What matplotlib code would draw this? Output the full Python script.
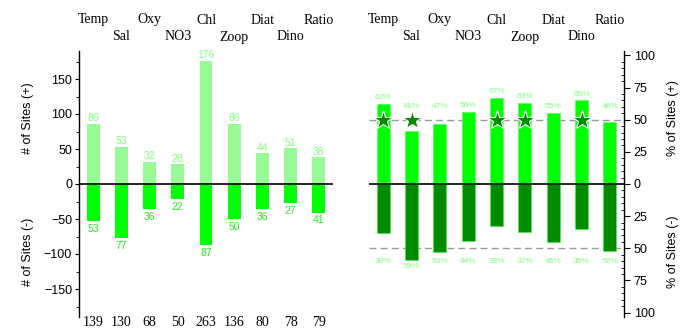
import matplotlib
matplotlib.use('Agg')
import matplotlib.pyplot as plt
from matplotlib.ticker import MultipleLocator, FuncFormatter
from matplotlib.transforms import blended_transform_factory

variables = ['Temp', 'Sal', 'Oxy', 'NO3', 'Chl', 'Zoop', 'Diat', 'Dino', 'Ratio']
n_pos = [86, 53, 32, 28, 176, 86, 44, 51, 38]
n_neg = [53, 77, 36, 22, 87, 50, 36, 27, 41]
n_total = [139, 130, 68, 50, 263, 136, 80, 78, 79]
pct_pos = [62, 41, 47, 56, 67, 63, 55, 65, 48]
pct_neg = [38, 59, 53, 44, 33, 37, 45, 35, 52]
starred = ['Temp', 'Sal', 'Chl', 'Zoop', 'Dino']

plt.rcParams['font.family'] = ['Liberation Sans', 'DejaVu Sans']
serif = 'Liberation Serif'

fig = plt.figure(figsize=(6.92, 3.29), dpi=100)
W, H = 692.0, 329.0
ax1 = fig.add_axes([79/W, 12/H, 254/W, 266/H])
ax2 = fig.add_axes([369/W, 12/H, 255/W, 266/H])

x = list(range(len(variables)))
bw = 0.46

# ---- left panel: counts
ax1.bar(x, n_pos, width=bw, color='#98fb98', edgecolor='none')
ax1.bar(x, [-v for v in n_neg], width=bw, color='#00ff00', edgecolor='none')
ax1.axhline(0, color='black', lw=1.2)
for i in x:
    ax1.annotate(str(n_pos[i]), (i, n_pos[i]), xytext=(0, 0.5), textcoords='offset points',
                 ha='center', va='bottom', fontsize=7.5, color='#80ff80')
    ax1.annotate(str(n_neg[i]), (i, -n_neg[i]), xytext=(0, -2), textcoords='offset points',
                 ha='center', va='top', fontsize=7.5, color='#22ee22')
ax1.set_xlim(-0.5, 8.5)
ax1.set_ylim(-190, 190)
ax1.set_yticks([-150, -100, -50, 0, 50, 100, 150])
ax1.yaxis.set_minor_locator(MultipleLocator(25))
ax1.tick_params(axis='y', which='major', length=3, width=0.8, labelsize=9, pad=2)
ax1.tick_params(axis='y', which='minor', length=2, width=0.6)
for s in ['top', 'right', 'bottom']:
    ax1.spines[s].set_visible(False)
ax1.spines['left'].set_linewidth(1.0)
ax1.set_xticks([])
fig.text(28/W, 1-118/H, '# of Sites (+)', rotation=90, ha='center', va='center', fontsize=9)
fig.text(28/W, 1-252/H, '# of Sites (-)', rotation=90, ha='center', va='center', fontsize=9)

# ---- right panel: percentages
ax2.bar(x, pct_pos, width=bw, color='#00ff00', edgecolor='#55ff55', lw=0.4)
ax2.bar(x, [-v for v in pct_neg], width=bw, color='#008b00', edgecolor='#33ff33', lw=0.4)
ax2.axhline(0, color='black', lw=1.2)
ax2.axhline(50, color='#999999', lw=1.0, ls=(0, (5, 3)), zorder=0.5)
ax2.axhline(-50, color='#999999', lw=1.0, ls=(0, (5, 3)), zorder=0.5)
for i in x:
    ax2.text(i, max(pct_pos[i], 55) + 5, '%d%%' % pct_pos[i], ha='center', va='center',
             fontsize=6, color='#80ff80')
    ax2.text(i, -(max(pct_neg[i], 55) + 5), '%d%%' % pct_neg[i], ha='center', va='center',
             fontsize=6, color='#80ff80')
sx = [variables.index(v) for v in starred]
ax2.plot(sx, [50] * len(sx), ls='none', marker='*', ms=15, color='#008b00',
         markeredgecolor='white', markeredgewidth=0.8, zorder=3)
ax2.set_xlim(-0.5, 8.5)
ax2.set_ylim(-103.5, 103.5)
ax2.set_yticks([-100, -75, -50, -25, 0, 25, 50, 75, 100])
ax2.yaxis.set_major_formatter(FuncFormatter(lambda v, p: '%d' % abs(v)))
ax2.yaxis.set_minor_locator(MultipleLocator(5))
ax2.yaxis.tick_right()
ax2.tick_params(axis='y', which='major', direction='out', length=4, width=0.8, labelsize=9, pad=3)
ax2.tick_params(axis='y', which='minor', direction='in', length=2, width=0.6)
for s in ['top', 'left', 'bottom']:
    ax2.spines[s].set_visible(False)
ax2.spines['right'].set_linewidth(1.0)
ax2.set_xticks([])
fig.text(673/W, 1-118/H, '% of Sites (+)', rotation=90, ha='center', va='center', fontsize=9)
fig.text(673/W, 1-252/H, '% of Sites (-)', rotation=90, ha='center', va='center', fontsize=9)

# ---- category labels on top, totals under left panel
for ax in (ax1, ax2):
    tr = blended_transform_factory(ax.transData, fig.transFigure)
    for i, name in enumerate(variables):
        yy = 1 - 20/H if i % 2 == 0 else 1 - 37/H
        ax.text(i, yy, name, transform=tr, ha='center', va='center', fontsize=10, family=serif)
tr1 = blended_transform_factory(ax1.transData, fig.transFigure)
for i, t in enumerate(n_total):
    ax1.text(i, 1 - 323/H, str(t), transform=tr1, ha='center', va='center', fontsize=10, family=serif)

fig.savefig('out.png', dpi=100)
